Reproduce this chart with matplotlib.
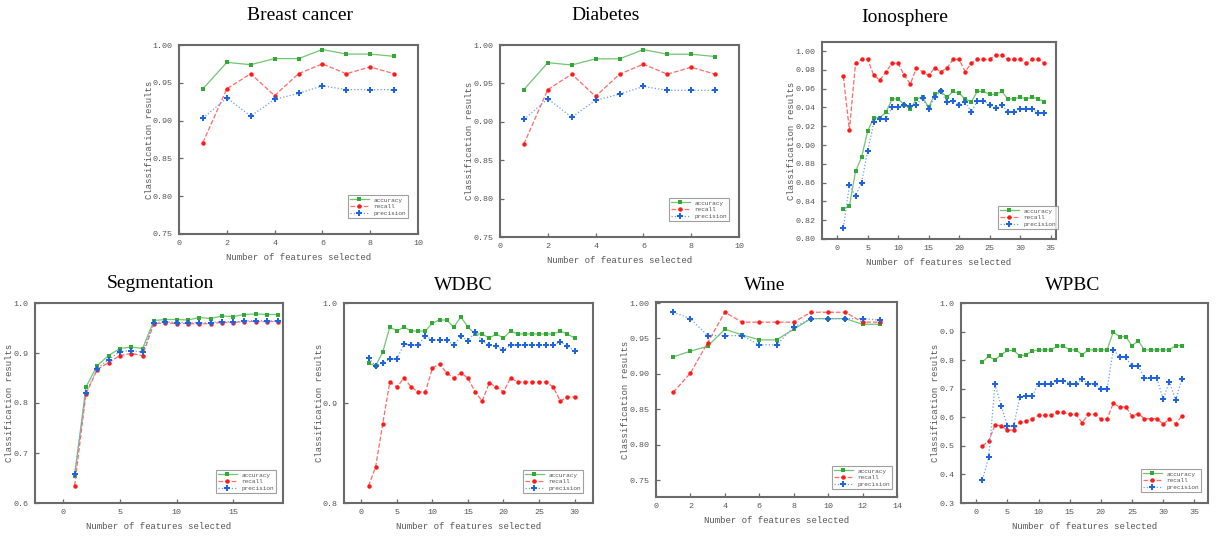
import matplotlib
matplotlib.use("Agg")
import matplotlib.pyplot as plt
from matplotlib.ticker import FormatStrFormatter

# ---------------- data ----------------
bc_acc = [0.942, 0.977, 0.974, 0.982, 0.982, 0.994, 0.988, 0.988, 0.985]
bc_rec = [0.871, 0.942, 0.962, 0.933, 0.962, 0.975, 0.962, 0.971, 0.962]
bc_pre = [0.903, 0.930, 0.906, 0.928, 0.936, 0.946, 0.941, 0.941, 0.941]

db_acc = [0.942, 0.977, 0.974, 0.982, 0.982, 0.994, 0.988, 0.988, 0.985]
db_rec = [0.871, 0.942, 0.962, 0.933, 0.962, 0.975, 0.962, 0.971, 0.962]
db_pre = [0.903, 0.930, 0.906, 0.928, 0.936, 0.946, 0.941, 0.941, 0.941]

io_acc = [0.832, 0.835, 0.872, 0.887, 0.915, 0.929, 0.929, 0.935, 0.949, 0.949,
          0.943, 0.938, 0.949, 0.951, 0.940, 0.954, 0.957, 0.951, 0.957, 0.955,
          0.949, 0.946, 0.957, 0.957, 0.954, 0.954, 0.957, 0.949, 0.949, 0.951,
          0.949, 0.951, 0.949, 0.946]
io_rec = [0.973, 0.916, 0.987, 0.991, 0.991, 0.974, 0.969, 0.978, 0.987, 0.987,
          0.974, 0.965, 0.982, 0.978, 0.974, 0.982, 0.978, 0.982, 0.991, 0.991,
          0.978, 0.987, 0.991, 0.991, 0.991, 0.996, 0.996, 0.991, 0.991, 0.991,
          0.987, 0.991, 0.991, 0.987]
io_pre = [0.812, 0.857, 0.846, 0.860, 0.894, 0.924, 0.928, 0.928, 0.940, 0.940,
          0.943, 0.941, 0.943, 0.950, 0.938, 0.951, 0.957, 0.946, 0.947, 0.943,
          0.946, 0.935, 0.947, 0.947, 0.943, 0.939, 0.943, 0.935, 0.935, 0.938,
          0.938, 0.938, 0.934, 0.934]

sg_acc = [0.655, 0.832, 0.875, 0.895, 0.909, 0.912, 0.909, 0.965, 0.967, 0.967,
          0.966, 0.971, 0.969, 0.974, 0.973, 0.977, 0.978, 0.977, 0.977]
sg_rec = [0.635, 0.818, 0.867, 0.881, 0.895, 0.899, 0.895, 0.959, 0.960, 0.959,
          0.959, 0.958, 0.959, 0.961, 0.961, 0.963, 0.963, 0.963, 0.963]
sg_pre = [0.659, 0.821, 0.869, 0.887, 0.903, 0.905, 0.902, 0.961, 0.962, 0.961,
          0.961, 0.960, 0.961, 0.963, 0.962, 0.964, 0.965, 0.964, 0.964]

wd_acc = [0.940, 0.937, 0.951, 0.976, 0.972, 0.976, 0.972, 0.972, 0.972, 0.980,
          0.983, 0.983, 0.976, 0.986, 0.976, 0.969, 0.969, 0.965, 0.969, 0.965,
          0.972, 0.969, 0.969, 0.969, 0.969, 0.969, 0.969, 0.972, 0.969, 0.965]
wd_rec = [0.817, 0.836, 0.879, 0.921, 0.916, 0.925, 0.916, 0.911, 0.911, 0.935,
          0.939, 0.930, 0.925, 0.930, 0.925, 0.911, 0.902, 0.920, 0.916, 0.911,
          0.925, 0.921, 0.921, 0.921, 0.921, 0.921, 0.916, 0.902, 0.906, 0.906]
wd_pre = [0.945, 0.937, 0.940, 0.944, 0.944, 0.959, 0.958, 0.958, 0.967, 0.963,
          0.963, 0.963, 0.958, 0.967, 0.962, 0.971, 0.962, 0.958, 0.957, 0.953,
          0.958, 0.958, 0.958, 0.958, 0.958, 0.958, 0.958, 0.961, 0.957, 0.952]

wn_acc = [0.924, 0.932, 0.939, 0.963, 0.955, 0.948, 0.948, 0.963, 0.978, 0.978,
          0.978, 0.970, 0.970]
wn_rec = [0.874, 0.901, 0.944, 0.987, 0.973, 0.973, 0.973, 0.973, 0.987, 0.987,
          0.987, 0.973, 0.973]
wn_pre = [0.987, 0.978, 0.954, 0.954, 0.954, 0.941, 0.941, 0.966, 0.978, 0.978,
          0.978, 0.978, 0.976]

wp_acc = [0.795, 0.813, 0.801, 0.819, 0.834, 0.834, 0.815, 0.819, 0.832, 0.836,
          0.836, 0.836, 0.849, 0.849, 0.836, 0.836, 0.819, 0.836, 0.836, 0.836,
          0.836, 0.899, 0.882, 0.882, 0.851, 0.867, 0.836, 0.836, 0.836, 0.836,
          0.836, 0.851, 0.851]
wp_rec = [0.500, 0.517, 0.573, 0.570, 0.555, 0.555, 0.582, 0.587, 0.595, 0.607,
          0.607, 0.607, 0.617, 0.617, 0.610, 0.610, 0.581, 0.610, 0.610, 0.594,
          0.594, 0.649, 0.636, 0.636, 0.604, 0.613, 0.595, 0.595, 0.595, 0.576,
          0.594, 0.578, 0.604]
wp_pre = [0.382, 0.460, 0.715, 0.641, 0.569, 0.569, 0.672, 0.675, 0.675, 0.718,
          0.718, 0.718, 0.728, 0.728, 0.718, 0.718, 0.733, 0.718, 0.718, 0.698,
          0.698, 0.837, 0.810, 0.810, 0.778, 0.781, 0.736, 0.736, 0.736, 0.663,
          0.725, 0.660, 0.733]

titles = ["Breast cancer", "Diabetes", "Ionosphere", "Segmentation", "WDBC", "Wine", "WPBC"]
series_labels = ["accuracy", "recall", "precision"]
x_label = "Number of features selected"
y_label = "Classification results"

# ---------------- styling ----------------
W, H = 1217, 538
fig = plt.figure(figsize=(W / 100, H / 100), dpi=100)

GRAY = "#555555"
MONO = ["Liberation Mono", "DejaVu Sans Mono"]
SERIF = ["Liberation Serif", "DejaVu Serif"]


def rect(l, t, r, b):
    return [l / W, 1 - b / H, (r - l) / W, (b - t) / H]


# layout in pixels: axes box, title centre, y-label x centre, legend lower-right corner
panels = [
    ((bc_acc, bc_rec, bc_pre), (179, 45, 418, 234), (0, 10), range(0, 11, 2),
     (0.75, 1.0), [0.75, 0.80, 0.85, 0.90, 0.95, 1.00], "%.2f", (300, 15), 149, (408, 218)),
    ((db_acc, db_rec, db_pre), (500, 45, 739, 237), (0, 10), range(0, 11, 2),
     (0.75, 1.0), [0.75, 0.80, 0.85, 0.90, 0.95, 1.00], "%.2f", (606, 15), 470, (729, 221)),
    ((io_acc, io_rec, io_pre), (822, 42, 1056, 239), (-2.5, 35.9), range(0, 36, 5),
     (0.80, 1.0096), [0.80, 0.82, 0.84, 0.86, 0.88, 0.90, 0.92, 0.94, 0.96, 0.98, 1.00], "%.2f",
     (905, 18), 792, (1058, 229)),
    ((sg_acc, sg_rec, sg_pre), (35, 303, 283, 503), (-2.5, 19.4), range(0, 16, 5),
     (0.6, 1.0), [0.6, 0.7, 0.8, 0.9, 1.0], "%.1f", (160, 283), 10, (276, 493)),
    ((wd_acc, wd_rec, wd_pre), (344, 303, 593, 503), (-2.45, 32.6), range(0, 31, 5),
     (0.8, 1.0), [0.8, 0.9, 1.0], "%.1f", (463, 285), 319, (583, 493)),
    ((wn_acc, wn_rec, wn_pre), (656, 302, 897, 497), (0, 14), range(0, 15, 2),
     (0.726, 1.0015), [0.75, 0.80, 0.85, 0.90, 0.95, 1.00], "%.2f", (765, 285), 626, (892, 489)),
    ((wp_acc, wp_rec, wp_pre), (961, 303, 1208, 503), (-2.45, 37.2), range(0, 36, 5),
     (0.3, 1.0), [0.3, 0.4, 0.5, 0.6, 0.7, 0.8, 0.9, 1.0], "%.1f", (1073, 285), 936, (1201, 492)),
]

styles = [
    dict(color="#74c474", linestyle="-", marker="s", markersize=2.8, markerfacecolor="#34a834"),
    dict(color="#ff6a6a", linestyle="--", marker="o", markersize=3.2, markerfacecolor="#ff1a1a"),
    dict(color="#6d9cf0", linestyle=":", marker="P", markersize=4.0, markerfacecolor="#1f63e0"),
]

for title, (data, box, xlim, xticks, ylim, yticks, yfmt, tpos, ylx, legpos) in zip(titles, panels):
    ax = fig.add_axes(rect(*box))
    for vals, lab, st in zip(data, series_labels, styles):
        xs = list(range(1, len(vals) + 1))
        ax.plot(xs, vals, label=lab, linewidth=0.9, markeredgewidth=0, **st)
    ax.set_xlim(*xlim)
    ax.set_ylim(*ylim)
    ax.set_xticks(list(xticks))
    ax.set_yticks(yticks)
    ax.yaxis.set_major_formatter(FormatStrFormatter(yfmt))
    for sp in ax.spines.values():
        sp.set_color("#6a6a6a")
        sp.set_linewidth(1.5)
    ax.tick_params(axis="both", direction="in", length=3, width=0.9, color="#6a6a6a",
                   pad=4.5, labelsize=6.0, labelcolor=GRAY)
    for lbl in ax.get_xticklabels() + ax.get_yticklabels():
        lbl.set_family(MONO)
    ax.set_xlabel(x_label, family=MONO, fontsize=6.5, color=GRAY, labelpad=4)
    ax.set_ylabel(y_label, family=MONO, fontsize=6.5, color=GRAY)
    ax.yaxis.set_label_coords(ylx / W, 1 - (box[1] + box[3]) / 2 / H, transform=fig.transFigure)
    ax.yaxis.label.set_va("center")
    leg = ax.legend(loc="lower right", bbox_to_anchor=(legpos[0] / W, 1 - legpos[1] / H),
                    bbox_transform=fig.transFigure,
                    prop={"family": MONO, "size": 4.4},
                    frameon=True, fancybox=False, borderpad=0.3, labelspacing=0.25,
                    handlelength=3.0, handletextpad=0.8, borderaxespad=0)
    leg.get_frame().set_edgecolor("#888888")
    leg.get_frame().set_linewidth(0.8)
    for t in leg.get_texts():
        t.set_color(GRAY)
    fig.text(tpos[0] / W, 1 - tpos[1] / H, title, family=SERIF, fontsize=14,
             ha="center", va="center", color="black")

fig.savefig("out.png", dpi=100)
